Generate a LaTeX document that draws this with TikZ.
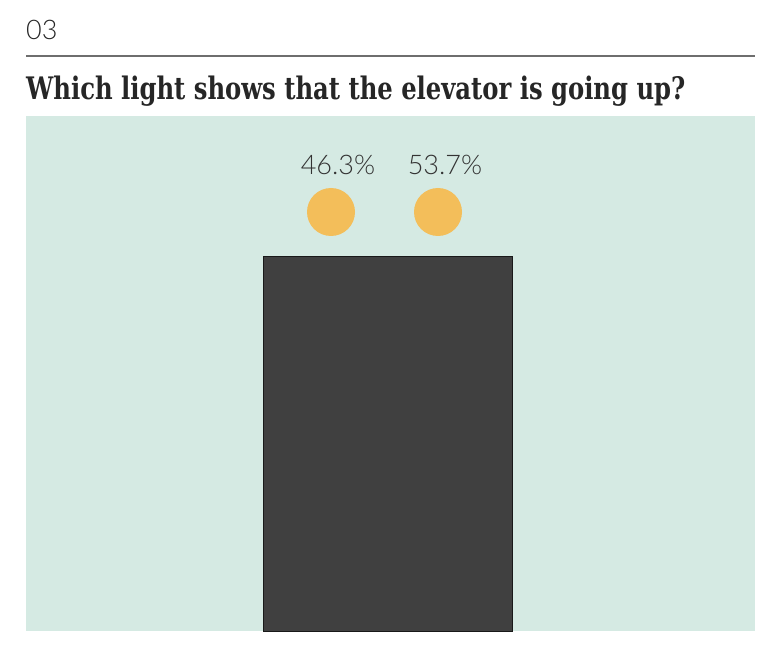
\documentclass[tikz,border=0pt]{standalone}
\usepackage{xcolor}
\usepackage{graphicx}
\usepackage{fontspec}
\setmainfont{Lato}
\newfontfamily\lightfont{Lato Light}
\newfontfamily\slabfont{DejaVu Serif Condensed}

\definecolor{panelgreen}{HTML}{D5EAE3}
\definecolor{cardark}{HTML}{404040}
\definecolor{lampyellow}{HTML}{F3BE5A}
\definecolor{rulegray}{HTML}{6E6E6E}

\begin{document}
\begin{tikzpicture}[x=1pt,y=-1pt]
  \useasboundingbox (0,0) rectangle (780,658) ;

  \node[anchor=base west,inner sep=0pt,text=black!85] (num) at (26,40) {\lightfont\fontsize{27}{27}\selectfont 03} ;
  \draw[rulegray,line width=1.3pt] (26,56) -- (755,56) ;
  \node[anchor=base west,inner sep=0pt,text=black!85] (title) at (26,100)
    {\scalebox{0.87}[1]{\slabfont\bfseries\fontsize{31}{32}\selectfont Which light shows that the elevator is going up?}} ;

  \fill[panelgreen] (26,116) rectangle (755,631) ;
  \draw[fill=cardark,draw=black!90,line width=0.8pt] (263,256) rectangle (512,631) ;

  \fill[lampyellow] (331,212) circle (24) ;
  \fill[lampyellow] (438,212) circle (24) ;

  \node[anchor=base,inner sep=0pt,text=black!80] (left) at (338,175) {\lightfont\fontsize{27}{27}\selectfont 46.3\%} ;
  \node[anchor=base,inner sep=0pt,text=black!80] (right) at (445,175) {\lightfont\fontsize{27}{27}\selectfont 53.7\%} ;

\end{tikzpicture}
\end{document}
